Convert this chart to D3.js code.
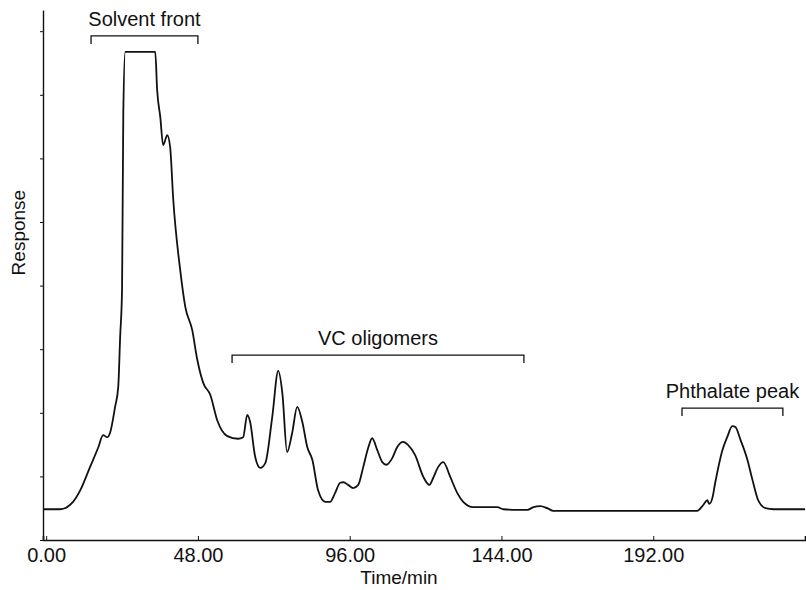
<!DOCTYPE html>
<html>
<head>
<meta charset="utf-8">
<script src="https://cdn.jsdelivr.net/npm/d3@7"></script>
<style>
  body { margin: 0; background: #fff; }
  text { font-family: "Liberation Sans", Arial, sans-serif; fill: #111; }
</style>
</head>
<body>
<div id="chart"></div>
<script>
// Chromatogram trace (time in min, response in arbitrary units)
const times = [-1, 4.4, 8.5, 10.8, 13.9, 16.5, 18.0, 19.3, 20.2, 21.8, 22.8, 23.4, 24.0, 24.4, 25.0,
  34.5, 35.1, 36.1, 37.0, 38.3, 39.2, 40.2, 42.4, 44.0, 46.2, 47.8, 49.7, 51.9, 54.1, 57.3,
  60.7, 62.3, 63.6, 64.5, 66.1, 67.7, 69.3, 71.5, 73.4, 74.7, 76.2, 77.8, 79.4, 81.0, 82.6,
  84.2, 86.0, 88.3, 89.8, 91.4, 93.0, 94.0, 95.5, 97.1, 98.7, 100.3, 101.9, 103.1, 104.7,
  106.3, 107.6, 109.5, 111.0, 112.9, 114.5, 116.7, 119.3, 121.2, 122.4, 124.0, 125.6, 127.8,
  130.0, 131.9, 135.1, 139.5, 142.7, 144.6, 149.0, 152.2, 154.1, 156.3, 158.5, 160.4, 172.1,
  187.9, 205.9, 207.8, 209.1, 209.7, 210.7, 211.6, 213.9, 215.4, 217.0, 218.0, 219.6, 221.8,
  223.4, 225.2, 227.5, 230.0, 240];
const response = [5.8, 5.8, 7.2, 9.4, 13.8, 17.5, 19.8, 19.4, 20.2, 25.1, 28.9, 38.3, 47.2, 80.6, 92.1,
  92.1, 84.9, 79.8, 74.5, 76.4, 74.2, 64.2, 50.9, 44.0, 39.6, 34.0, 29.6, 27.4, 22.6, 19.6,
  19.1, 19.4, 23.6, 22.3, 15.7, 13.6, 14.5, 23.2, 31.9, 27.7, 16.6, 20.2, 25.1, 22.3, 17.5,
  15.1, 9.4, 7.2, 7.2, 8.9, 10.8, 10.9, 10.4, 9.8, 10.4, 13.8, 17.5, 19.2, 17.0,
  14.7, 14.2, 15.5, 17.5, 18.5, 17.9, 16.0, 11.9, 10.4, 11.7, 13.8, 14.7, 11.9,
  8.9, 7.2, 6.2, 6.2, 6.2, 5.8, 5.7, 5.7, 6.2, 6.4, 6.0, 5.5, 5.5,
  5.5, 5.5, 6.6, 7.5, 6.8, 7.9, 10.8, 17.0, 19.4, 21.5, 21.3, 18.9, 15.1,
  11.3, 7.5, 6.0, 5.8, 5.8];

const xTicks = [0, 48, 96, 144, 192];

// Annotation brackets
const bracketLabels = ["Solvent front", "VC oligomers", "Phthalate peak"];
const bracketStart = [14.2, 58.8, 201.1];
const bracketEnd = [48.0, 151.1, 233.0];
const bracketLevel = [95.1, 34.9, 24.9];

const width = 806, height = 590;

const svg = d3.select("#chart")
  .append("svg")
  .attr("width", width)
  .attr("height", height);

const x = d3.scaleLinear()
  .domain([-1, 240])
  .range([43, 805]);

const y = d3.scaleLinear()
  .domain([0, 100])
  .range([540, 10]);

// x axis
const xAxis = svg.append("g")
  .attr("transform", `translate(0,${y(0)})`)
  .call(d3.axisBottom(x).tickValues(xTicks).tickFormat(d3.format(".2f")).tickSize(-4));
xAxis.select(".domain").attr("stroke", "#111").attr("stroke-width", 1.6);
xAxis.selectAll(".tick line").attr("stroke", "#111");
xAxis.selectAll(".tick text")
  .attr("y", 22)
  .attr("dy", 0)
  .style("font-size", "20px")
  .style("font-family", "'Liberation Sans', Arial, sans-serif")
  .attr("fill", "#111");

// y axis, no labels
const yAxis = svg.append("g")
  .attr("transform", `translate(${x(-1)},0)`)
  .call(d3.axisLeft(y).tickValues(d3.range(0, 101, 12)).tickFormat("").tickSize(3).tickSizeOuter(0));
yAxis.select(".domain").attr("stroke", "#111").attr("stroke-width", 1.4);
yAxis.selectAll(".tick line").attr("stroke", "#111");

// axis titles
svg.append("text")
  .attr("x", 399)
  .attr("y", 584)
  .attr("text-anchor", "middle")
  .style("font-size", "19px")
  .text("Time/min");

svg.append("text")
  .attr("transform", `translate(25,${y(58)}) rotate(-90)`)
  .attr("text-anchor", "middle")
  .style("font-size", "19px")
  .text("Response");

// trace
const trace = times.map((t, i) => ({ t: t, v: response[i] }));
svg.append("path")
  .datum(trace)
  .attr("fill", "none")
  .attr("stroke", "#111")
  .attr("stroke-width", 1.8)
  .attr("stroke-linejoin", "round")
  .attr("d", d3.line()
    .curve(d3.curveMonotoneX)
    .x(d => x(d.t))
    .y(d => y(d.v)));

// brackets with labels
bracketLabels.forEach((label, i) => {
  const x0 = x(bracketStart[i]), x1 = x(bracketEnd[i]), yb = y(bracketLevel[i]);
  svg.append("path")
    .attr("fill", "none")
    .attr("stroke", "#111")
    .attr("stroke-width", 1.3)
    .attr("d", `M${x0},${yb + 8}V${yb}H${x1}V${yb + 8}`);
  svg.append("text")
    .attr("x", (x0 + x1) / 2)
    .attr("y", yb - 10)
    .attr("text-anchor", "middle")
    .style("font-size", "20px")
    .text(label);
});
</script>
</body>
</html>
